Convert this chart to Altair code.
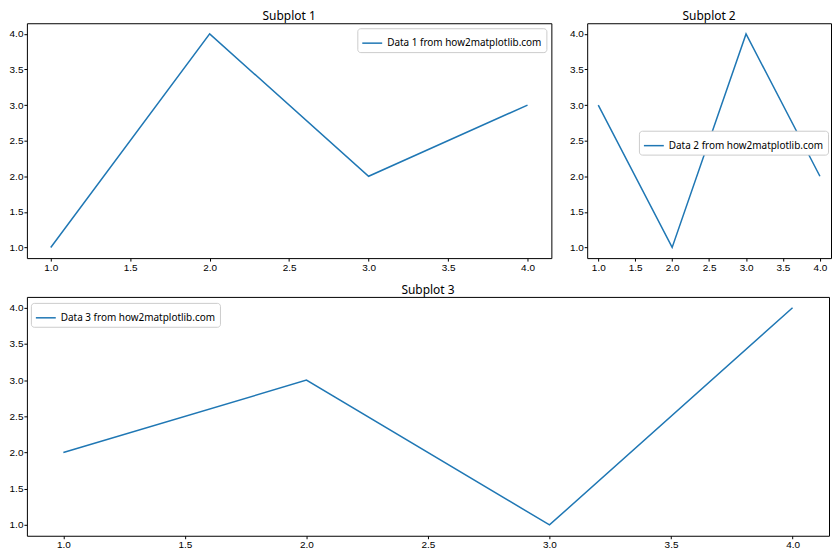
import altair as alt
import pandas as pd

x_vals = [1, 2, 3, 4]
y1 = [1, 4, 2, 3]
y2 = [3, 1, 4, 2]
y3 = [2, 3, 1, 4]
labels = ["Data 1 from how2matplotlib.com", "Data 2 from how2matplotlib.com", "Data 3 from how2matplotlib.com"]
titles = ["Subplot 1", "Subplot 2", "Subplot 3"]
tick_vals = [1.0, 1.5, 2.0, 2.5, 3.0, 3.5, 4.0]

FONT = "Liberation Sans"
LFONT = "Noto Sans"


def panel(ys, label, title, w, h, lx, ly):
    df = pd.DataFrame({"x": x_vals, "y": ys, "series": [label] * len(ys)})
    return alt.Chart(df).mark_line(strokeWidth=1.5).encode(
        x=alt.X("x:Q", scale=alt.Scale(domain=[0.85, 4.15], nice=False, zero=False),
                axis=alt.Axis(values=tick_vals, format=".1f", title=None)),
        y=alt.Y("y:Q", scale=alt.Scale(domain=[0.85, 4.15], nice=False, zero=False),
                axis=alt.Axis(values=tick_vals, format=".1f", title=None)),
        color=alt.Color("series:N", scale=alt.Scale(range=["#1f77b4"]),
                        legend=alt.Legend(title=None, orient="none", legendX=lx, legendY=ly,
                                          symbolType="stroke", symbolSize=400,
                                          symbolStrokeWidth=1.5, labelFontSize=10,
                                          labelFont=LFONT, labelColor="black",
                                          strokeColor="#cccccc", fillColor="white",
                                          cornerRadius=3, padding=4)),
        order="x:Q",
    ).properties(width=w, height=h, title=alt.TitleParams(title, fontSize=12, fontWeight="normal",
                                                          font=LFONT, offset=0, color="black"))


p1 = panel(y1, labels[0], titles[0], 527, 236, 332, 5)
p2 = panel(y2, labels[1], titles[1], 245, 236, 52, 108)
p3 = panel(y3, labels[2], titles[2], 806, 240, 4, 6)

top = alt.hconcat(p1, p2, spacing=16).resolve_scale(color="independent").resolve_legend(color="independent")
chart = alt.vconcat(top, p3, spacing=10).resolve_scale(color="independent").resolve_legend(color="independent")

chart = chart.configure(padding=0).configure_view(stroke="black", strokeWidth=1).configure_axis(
    grid=False, domain=False, tickColor="black", tickSize=3, labelFontSize=10, labelFont=FONT,
    labelColor="black", labelPadding=1,
)

chart.save("out.html", embed_options={"renderer": "svg", "actions": False})
